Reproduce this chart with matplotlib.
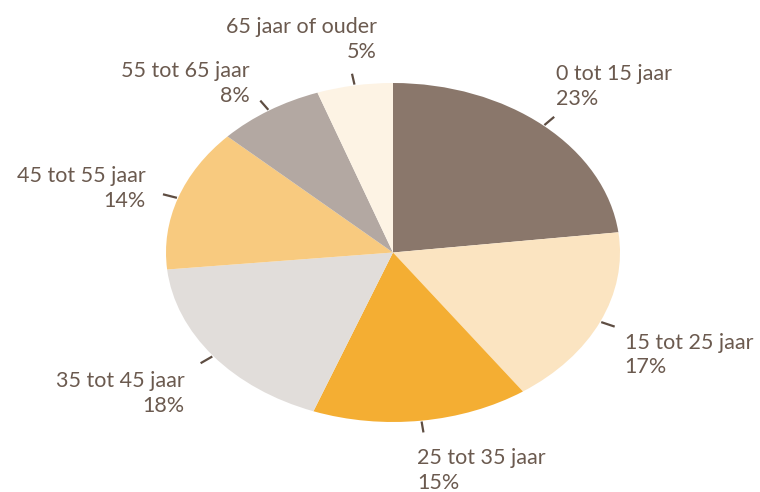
import numpy as np
import matplotlib
matplotlib.use("Agg")
import matplotlib.pyplot as plt

categories = ["0 tot 15 jaar", "15 tot 25 jaar", "25 tot 35 jaar", "35 tot 45 jaar",
              "45 tot 55 jaar", "55 tot 65 jaar", "65 jaar of ouder"]
values = [23.1, 17.2, 15.4, 17.7, 13.6, 7.6, 5.4]
colors = ["#8a776b", "#fbe4c1", "#f4ae33", "#e1ddda", "#f8ca7f", "#b3a8a2", "#fdf3e4"]

# layout: label offsets (pixels) from tick end, alignment
label_offsets = [(2, 8), (10, -6), (-6, -16), (-16, -8), (-17, 6), (-11, -5), (25, 12)]
label_ha = ["left", "left", "left", "right", "right", "right", "right"]
label_va = ["bottom", "top", "top", "top", "center", "bottom", "bottom"]

text_color = "#6b5a4f"
tick_color = "#5e4d42"

W, H = 760, 492
fig = plt.figure(figsize=(W / 100, H / 100), dpi=100)
cx, cy, rx, ry = 393, 252.5, 227, 169.5
ax = fig.add_axes([(cx - rx) / W, (H - cy - ry) / H, 2 * rx / W, 2 * ry / H])
wedges, _ = ax.pie(values, colors=colors, startangle=90, counterclock=False,
                   radius=1, wedgeprops=dict(linewidth=0))
ax.set_xlim(-1, 1)
ax.set_ylim(-1, 1)
ax.set_aspect("auto")
ax.axis("off")

total = sum(values)
for i, w in enumerate(wedges):
    mid = np.deg2rad((w.theta1 + w.theta2) / 2)
    c, s = np.cos(mid), np.sin(mid)
    ax.plot([1.005 * c, 1.07 * c], [1.005 * s, 1.07 * s], color=tick_color,
            lw=1.6, solid_capstyle="butt", clip_on=False)
    label = f"{categories[i]}\n{round(values[i] / total * 100)}%"
    ax.annotate(label, xy=(1.07 * c, 1.07 * s), xytext=label_offsets[i],
                textcoords="offset pixels", ha=label_ha[i], va=label_va[i],
                multialignment=label_ha[i], fontsize=15.5, family="Lato",
                color=text_color, linespacing=1.3, annotation_clip=False)

fig.savefig("out.png", dpi=100)
